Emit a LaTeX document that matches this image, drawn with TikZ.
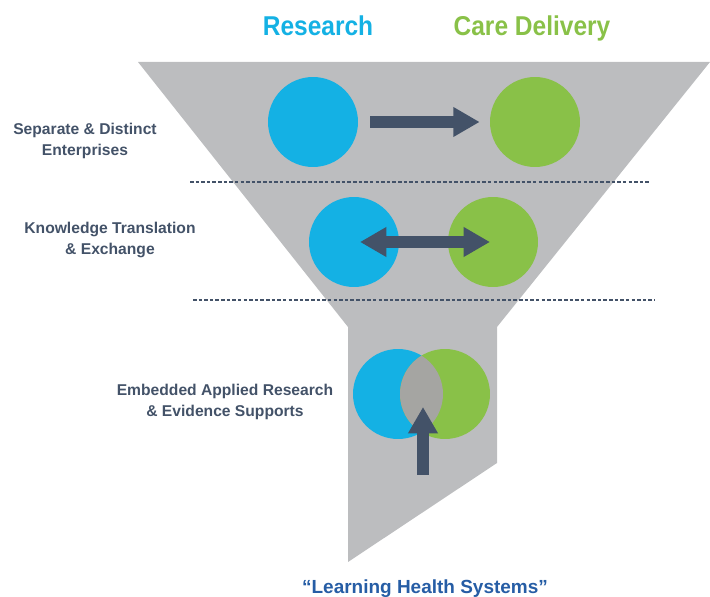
\documentclass[tikz,border=0pt]{standalone}
\usepackage{fontspec}
\setmainfont{Liberation Sans}
\usetikzlibrary{arrows.meta,calc}
\definecolor{resblue}{RGB}{20,177,228}
\definecolor{caregreen}{RGB}{137,193,72}
\definecolor{funnelgray}{RGB}{188,189,191}
\definecolor{lapgray}{RGB}{165,165,162}
\definecolor{slate}{RGB}{67,82,104}
\definecolor{lhsblue}{RGB}{38,93,165}
\begin{document}
\begin{tikzpicture}[x=0.02cm,y=-0.02cm]
          \useasboundingbox (0,0) rectangle (710,597);
          \tikzset{disc/.style={circle,minimum size=1.8cm,inner sep=0pt},
                   stagelabel/.style={align=center,text=slate,font=\bfseries\fontsize{8.9}{11.5}\selectfont},
                   headline/.style={anchor=base,font=\bfseries\fontsize{15.5}{17}\selectfont},
                   bigarrow/.style={draw=slate,line width=6.3pt,-{Triangle[width=16pt,length=15pt]}},
                   divider/.style={draw=slate,line width=0.6pt,dash pattern=on 2pt off 1.2pt}};
          % funnel
          \fill[funnelgray] (138,62) -- (710,62) -- (497,327) -- (497,463)
                -- (348,562) -- (348,327) -- cycle;
          \draw[divider] (190,182) -- (651,182);
          \draw[divider] (193,300) -- (655,300);

          \node[headline,text=resblue] (research) at (318,36) {\scalebox{0.9}[1]{Research}};
          \node[headline,text=caregreen] (care) at (532,36) {\scalebox{0.9}[1]{Care Delivery}};

          % stages
          \node[stagelabel] (separate) at (85,141) {Separate \& Distinct\\Enterprises};
          \node[stagelabel] (exchange) at (110,240) {Knowledge Translation\\\& Exchange};
          \node[stagelabel] (embedded) at (225,402) {Embedded Applied Research\\\& Evidence Supports};

          \node[disc,fill=resblue] (res1) at (313,122) {};
          \node[disc,fill=caregreen] (care1) at (535,122) {};
          \node[disc,fill=resblue] (res2) at (354,242) {};
          \node[disc,fill=caregreen] (care2) at (493,242) {};
          \node[disc,fill=resblue] (res3) at (398,394) {};
          \node[disc,fill=caregreen] (care3) at (445,394) {};
          \begin{scope}
            \clip (res3.center) circle (0.9cm);
            \fill[lapgray] (care3.center) circle (0.9cm);
          \end{scope}

          % arrows
          \draw[bigarrow] ($(res1.east)+(12,0)$) -- ($(care1.west)-(10,0)$);
          \draw[bigarrow,{Triangle[width=16pt,length=15pt]}-{Triangle[width=16pt,length=15pt]}]
                ($(res2.center)+(6,0)$) -- ($(care2.center)-(3,0)$);
          \coordinate (lift) at (423,475);
          \coordinate (overlap) at (423,407);
          \draw[bigarrow] (lift) -- (overlap);

          \node[text=lhsblue,font=\bfseries\fontsize{10.8}{13}\selectfont] (lhs) at (425,589) {“Learning Health Systems”};
\end{tikzpicture}
\end{document}
